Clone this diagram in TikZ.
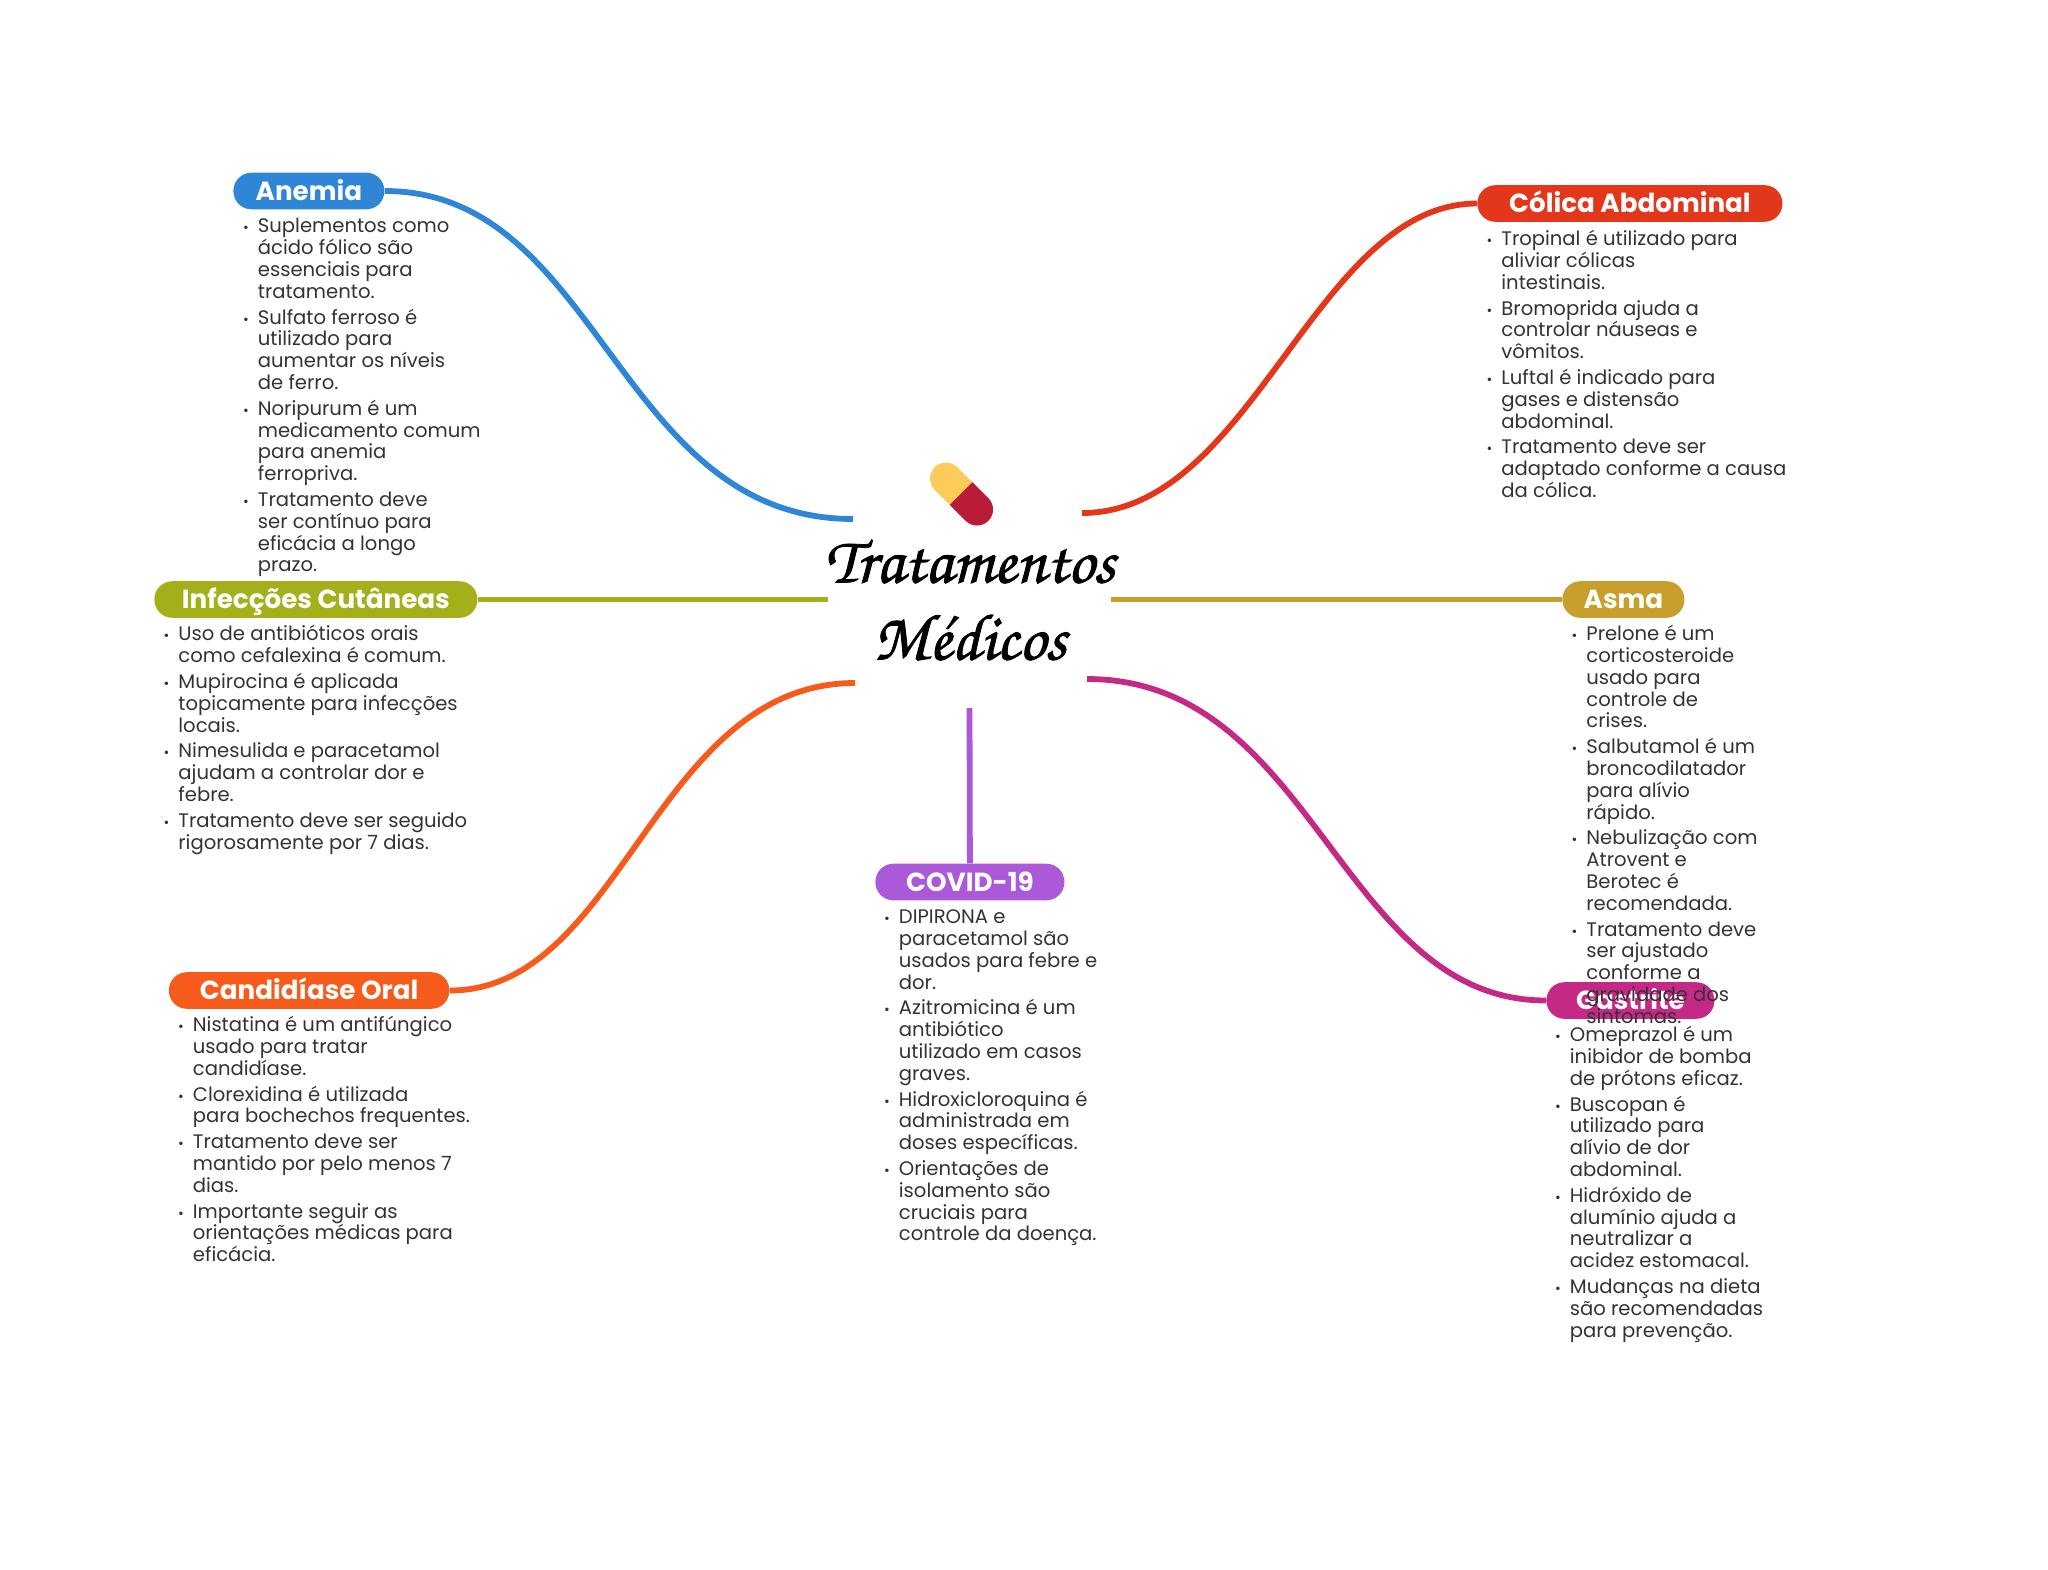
\documentclass[tikz,border=0pt]{standalone}
\usepackage{fontspec}
\setmainfont{Poppins}
\newfontfamily\titlefont[FakeBold=1.3]{TeX Gyre Chorus}
\definecolor{cblue}{HTML}{2F86D6}
\definecolor{cred}{HTML}{E3371B}
\definecolor{colive}{HTML}{A3B01A}
\definecolor{cgold}{HTML}{C89F2C}
\definecolor{corange}{HTML}{F75B1B}
\definecolor{cpurple}{HTML}{AB59D9}
\definecolor{cmag}{HTML}{C42A85}
\definecolor{ctext}{HTML}{333333}
\definecolor{ccapa}{HTML}{FDCB5A}
\definecolor{ccapb}{HTML}{B81C38}
\newcommand\blt{\makebox[0pt][r]{\fontsize{7}{7}\selectfont•\hspace{4.5pt}}}
\newcommand\nx{\\[2pt]\blt}
\tikzset{
 pill/.style={fill=#1,rounded corners=9pt,text=white,font=\fontsize{13.1}{14}\selectfont\bfseries,inner sep=0pt,minimum height=18.3pt,text height=11.3pt,text depth=2pt,anchor=west},
 listbox/.style={anchor=north west,inner sep=0pt,align=left,text=ctext,font=\fontsize{9.8}{10.9}\selectfont},
 link/.style={line width=2.9pt,#1},
 titlebox/.style={font=\titlefont\fontsize{33}{38.5}\selectfont,align=center,inner sep=0pt,text=black},
 capsule/.style={line width=16pt,line cap=round,#1}
}
\begin{document}
\begin{tikzpicture}[x=0.5pt,y=-0.5pt]
\useasboundingbox (0,0) rectangle (2048,1569);
% capsule
\draw[capsule=ccapa] (946,478.5) -- (977,509.5);
\begin{scope}
\clip (1001,453.5) -- (921,533.5) -- (981,593.5) -- (1061,513.5) -- cycle;
\draw[capsule=ccapb] (946,478.5) -- (977,509.5);
\end{scope}
\node[titlebox] (title) at (970,600) {Tratamentos\\Médicos};
% free ends
\coordinate (eblue) at (853,519);
\coordinate (ered) at (1082,513);
\coordinate (eolive) at (828,599.5);
\coordinate (egold) at (1111,599.5);
\coordinate (eorange) at (855,683);
\coordinate (emag) at (1087,679);
\coordinate (epurple) at (969.5,708);
% pills
\path (233,191) node[pill=cblue,minimum width=75.5pt] (anemia) {Anemia};
\path (1477,203.5) node[pill=cred,minimum width=152.5pt] (colica) {Cólica Abdominal};
\path (154,599.5) node[pill=colive,minimum width=161.5pt] (infec) {Infecções Cutâneas};
\path (1562,599.5) node[pill=cgold,minimum width=61pt] (asma) {Asma};
\path (168.5,990.5) node[pill=corange,minimum width=140.25pt] (cand) {Candidíase Oral};
\path (875,882) node[pill=cpurple,minimum width=94.5pt] (covid) {COVID-19};
\path (1546,1000.5) node[pill=cmag,minimum width=84pt] (gast) {Gastrite};
% connectors
\draw[link=cblue] (anemia.east) .. controls (600,191) and (617,519) .. (eblue);
\draw[link=cred] (colica.west) .. controls (1315,203.5) and (1253,513) .. (ered);
\draw[link=colive] (infec.east) -- (eolive);
\draw[link=cgold] (asma.west) -- (egold);
\draw[link=corange] (cand.east) .. controls (622,990.5) and (655,683) .. (eorange);
\draw[link=cmag] (gast.west) .. controls (1340,1000.5) and (1315,679) .. (emag);
\draw[link=cpurple] (covid.north) -- (epurple);
% lists
\node[listbox] (lanemia) at (257.5,218) {\blt Suplementos como\\ácido fólico são\\essenciais para\\tratamento.\nx Sulfato ferroso é\\utilizado para\\aumentar os níveis\\de ferro.\nx Noripurum é um\\medicamento comum\\para anemia\\ferropriva.\nx Tratamento deve\\ser contínuo para\\eficácia a longo\\prazo.};
\node[listbox] (lcolica) at (1501,230) {\blt Tropinal é utilizado para\\aliviar cólicas\\intestinais.\nx Bromoprida ajuda a\\controlar náuseas e\\vômitos.\nx Luftal é indicado para\\gases e distensão\\abdominal.\nx Tratamento deve ser\\adaptado conforme a causa\\da cólica.};
\node[listbox] (linfec) at (178,625) {\blt Uso de antibióticos orais\\como cefalexina é comum.\nx Mupirocina é aplicada\\topicamente para infecções\\locais.\nx Nimesulida e paracetamol\\ajudam a controlar dor e\\febre.\nx Tratamento deve ser seguido\\rigorosamente por 7 dias.};
\node[listbox] (lasma) at (1586,625) {\blt Prelone é um\\corticosteroide\\usado para\\controle de\\crises.\nx Salbutamol é um\\broncodilatador\\para alívio\\rápido.\nx Nebulização com\\Atrovent e\\Berotec é\\recomendada.\nx Tratamento deve\\ser ajustado\\conforme a\\gravidade dos\\sintomas.};
\node[listbox] (lcand) at (192.5,1016) {\blt Nistatina é um antifúngico\\usado para tratar\\candidíase.\nx Clorexidina é utilizada\\para bochechos frequentes.\nx Tratamento deve ser\\mantido por pelo menos 7\\dias.\nx Importante seguir as\\orientações médicas para\\eficácia.};
\node[listbox] (lcovid) at (898.5,909.5) {\blt DIPIRONA e\\paracetamol são\\usados para febre e\\dor.\nx Azitromicina é um\\antibiótico\\utilizado em casos\\graves.\nx Hidroxicloroquina é\\administrada em\\doses específicas.\nx Orientações de\\isolamento são\\cruciais para\\controle da doença.};
\node[listbox] (lgast) at (1569.5,1026) {\blt Omeprazol é um\\inibidor de bomba\\de prótons eficaz.\nx Buscopan é\\utilizado para\\alívio de dor\\abdominal.\nx Hidróxido de\\alumínio ajuda a\\neutralizar a\\acidez estomacal.\nx Mudanças na dieta\\são recomendadas\\para prevenção.};
\end{tikzpicture}
\end{document}
